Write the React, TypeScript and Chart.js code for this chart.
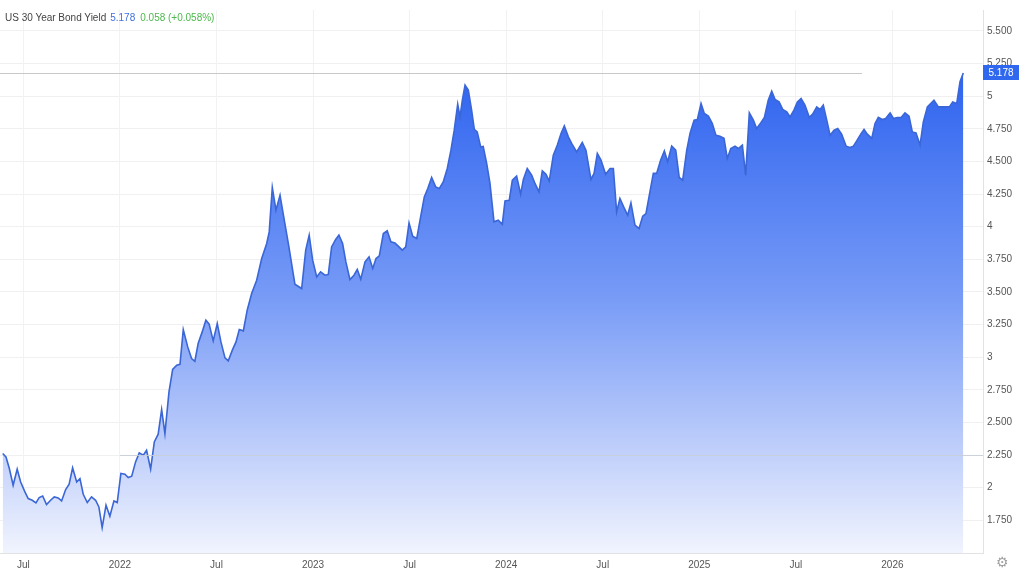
import React, { useEffect, useRef } from 'react';
import { Chart, registerables } from 'chart.js';

Chart.register(...registerables);

// Dates as decimal years (e.g. 2022.5 = start of July 2022)
const dates: number[] = [
  2021.393, 2021.410, 2021.427, 2021.447, 2021.468, 2021.486, 2021.508, 2021.525, 2021.546, 2021.565,
  2021.582, 2021.600, 2021.620, 2021.641, 2021.660, 2021.680, 2021.698, 2021.719, 2021.737, 2021.755,
  2021.776, 2021.793, 2021.810, 2021.831, 2021.853, 2021.874, 2021.891, 2021.908, 2021.928, 2021.948,
  2021.969, 2021.986, 2022.005, 2022.026, 2022.043, 2022.061, 2022.081, 2022.100, 2022.121, 2022.138,
  2022.159, 2022.178, 2022.198, 2022.216, 2022.233, 2022.254, 2022.273, 2022.294, 2022.311, 2022.328,
  2022.351, 2022.371, 2022.388, 2022.405, 2022.426, 2022.445, 2022.462, 2022.483, 2022.504, 2022.523,
  2022.544, 2022.561, 2022.582, 2022.601, 2022.618, 2022.639, 2022.659, 2022.682, 2022.708, 2022.734,
  2022.760, 2022.773, 2022.789, 2022.808, 2022.829, 2022.851, 2022.875, 2022.906, 2022.941, 2022.962,
  2022.980, 2022.998, 2023.019, 2023.039, 2023.062, 2023.079, 2023.096, 2023.117, 2023.134, 2023.153,
  2023.170, 2023.191, 2023.212, 2023.229, 2023.247, 2023.269, 2023.290, 2023.309, 2023.326, 2023.343,
  2023.364, 2023.384, 2023.403, 2023.424, 2023.445, 2023.462, 2023.480, 2023.497, 2023.516, 2023.537,
  2023.557, 2023.576, 2023.594, 2023.614, 2023.635, 2023.654, 2023.674, 2023.695, 2023.714, 2023.731,
  2023.749, 2023.761, 2023.773, 2023.787, 2023.804, 2023.821, 2023.835, 2023.850, 2023.868, 2023.881,
  2023.899, 2023.916, 2023.937, 2023.959, 2023.980, 2023.994, 2024.016, 2024.032, 2024.054, 2024.075,
  2024.089, 2024.109, 2024.132, 2024.149, 2024.170, 2024.187, 2024.206, 2024.223, 2024.244, 2024.265,
  2024.284, 2024.301, 2024.322, 2024.339, 2024.365, 2024.394, 2024.413, 2024.439, 2024.455, 2024.472,
  2024.491, 2024.515, 2024.538, 2024.555, 2024.572, 2024.589, 2024.610, 2024.629, 2024.646, 2024.667,
  2024.688, 2024.707, 2024.724, 2024.745, 2024.762, 2024.779, 2024.800, 2024.819, 2024.836, 2024.857,
  2024.878, 2024.896, 2024.914, 2024.935, 2024.952, 2024.973, 2024.990, 2025.009, 2025.026, 2025.047,
  2025.067, 2025.086, 2025.107, 2025.128, 2025.145, 2025.163, 2025.185, 2025.202, 2025.223, 2025.240,
  2025.259, 2025.280, 2025.297, 2025.318, 2025.337, 2025.357, 2025.375, 2025.392, 2025.413, 2025.432,
  2025.453, 2025.470, 2025.490, 2025.508, 2025.527, 2025.547, 2025.570, 2025.587, 2025.608, 2025.625,
  2025.642, 2025.660, 2025.677, 2025.698, 2025.717, 2025.737, 2025.760, 2025.780, 2025.798, 2025.815,
  2025.836, 2025.853, 2025.870, 2025.893, 2025.910, 2025.927, 2025.948, 2025.965, 2025.988, 2026.005,
  2026.025, 2026.045, 2026.065, 2026.086, 2026.103, 2026.122, 2026.143, 2026.160, 2026.181, 2026.198,
  2026.215, 2026.238, 2026.264, 2026.295, 2026.312, 2026.333, 2026.350, 2026.367,
];

const yields: number[] = [
  2.262, 2.236, 2.149, 2.019, 2.142, 2.044, 1.968, 1.917, 1.904, 1.884,
  1.925, 1.937, 1.871, 1.904, 1.930, 1.922, 1.899, 1.986, 2.027, 2.152,
  2.044, 2.070, 1.950, 1.887, 1.930, 1.904, 1.853, 1.695, 1.866, 1.782,
  1.899, 1.887, 2.109, 2.103, 2.078, 2.088, 2.198, 2.267, 2.249, 2.287,
  2.142, 2.351, 2.410, 2.599, 2.415, 2.734, 2.906, 2.939, 2.946, 3.212,
  3.079, 2.990, 2.969, 3.105, 3.194, 3.284, 3.253, 3.125, 3.258, 3.117,
  2.995, 2.972, 3.054, 3.117, 3.212, 3.202, 3.360, 3.488, 3.590, 3.756,
  3.871, 3.960, 4.300, 4.126, 4.241, 4.050, 3.845, 3.559, 3.526, 3.820,
  3.935, 3.743, 3.615, 3.654, 3.628, 3.634, 3.845, 3.902, 3.935, 3.871,
  3.730, 3.595, 3.628, 3.672, 3.598, 3.730, 3.769, 3.680, 3.756, 3.776,
  3.948, 3.968, 3.884, 3.876, 3.845, 3.820, 3.845, 4.029, 3.927, 3.910,
  4.075, 4.228, 4.293, 4.377, 4.305, 4.293, 4.343, 4.446, 4.586, 4.739,
  4.939, 4.841, 4.969, 5.084, 5.046, 4.893, 4.745, 4.726, 4.611, 4.615,
  4.484, 4.333, 4.037, 4.050, 4.019, 4.198, 4.203, 4.356, 4.387, 4.249,
  4.362, 4.446, 4.395, 4.331, 4.267, 4.428, 4.402, 4.349, 4.548, 4.625,
  4.714, 4.772, 4.688, 4.638, 4.573, 4.645, 4.586, 4.362, 4.408, 4.561,
  4.510, 4.402, 4.446, 4.446, 4.113, 4.216, 4.147, 4.088, 4.182, 4.012,
  3.986, 4.080, 4.101, 4.272, 4.408, 4.408, 4.510, 4.581, 4.497, 4.617,
  4.586, 4.377, 4.356, 4.586, 4.714, 4.816, 4.821, 4.944, 4.867, 4.847,
  4.791, 4.701, 4.693, 4.678, 4.523, 4.599, 4.617, 4.599, 4.625, 4.395,
  4.872, 4.816, 4.752, 4.795, 4.837, 4.969, 5.038, 4.975, 4.956, 4.898,
  4.880, 4.841, 4.893, 4.956, 4.982, 4.931, 4.837, 4.862, 4.918, 4.898,
  4.931, 4.816, 4.701, 4.739, 4.752, 4.709, 4.617, 4.607, 4.617, 4.657,
  4.709, 4.745, 4.709, 4.676, 4.791, 4.837, 4.821, 4.829, 4.872, 4.829,
  4.837, 4.837, 4.872, 4.847, 4.726, 4.719, 4.625, 4.803, 4.918, 4.944,
  4.969, 4.918, 4.918, 4.918, 4.956, 4.944, 5.110, 5.178,
];

const xTicks: number[] = [2021.5, 2022, 2022.5, 2023, 2023.5, 2024, 2024.5, 2025, 2025.5, 2026];
const yTicks: number[] = [1.75, 2, 2.25, 2.5, 2.75, 3, 3.25, 3.5, 3.75, 4, 4.25, 4.5, 4.75, 5, 5.25, 5.5];
const xRange: number[] = [2021.379, 2026.469];
const yRange: number[] = [1.5, 5.66];

const titleText = 'US 30 Year Bond Yield';
const lastValue = 5.178;
const changeText = '0.058 (+0.058%)';
const priceLineEnd = 2025.842;
const refLineValue = 2.25;
const refLineStart = 2022.0;

const FONT = "'Liberation Sans', Arial, sans-serif";

export default function App() {
  const canvasRef = useRef<HTMLCanvasElement>(null);

  useEffect(() => {
    const canvas = canvasRef.current;
    if (!canvas) return;
    const n = Math.min(dates.length, yields.length);
    const points: { x: number; y: number }[] = [];
    for (let i = 0; i < n; i++) points.push({ x: dates[i], y: yields[i] });

    const overlay = {
      id: 'overlay',
      beforeDatasetsDraw(chart: any) {
        const { ctx, chartArea, scales } = chart;
        const y = Math.round(scales.y.getPixelForValue(lastValue)) + 0.5;
        const xEnd = scales.x.getPixelForValue(priceLineEnd);
        ctx.save();
        ctx.strokeStyle = '#c8c8c8';
        ctx.lineWidth = 1;
        ctx.beginPath();
        ctx.moveTo(chartArea.left, y);
        ctx.lineTo(xEnd, y);
        ctx.stroke();
        ctx.restore();
      },
      afterDatasetsDraw(chart: any) {
        const { ctx, chartArea, scales } = chart;
        const y = Math.round(scales.y.getPixelForValue(refLineValue)) + 0.5;
        const xStart = scales.x.getPixelForValue(refLineStart);
        ctx.save();
        ctx.strokeStyle = 'rgba(200,205,215,0.9)';
        ctx.lineWidth = 1;
        ctx.beginPath();
        ctx.moveTo(xStart, y);
        ctx.lineTo(chartArea.right, y);
        ctx.stroke();
        ctx.restore();
      },
      afterDraw(chart: any) {
        const { ctx, chartArea, scales } = chart;
        const y = scales.y.getPixelForValue(lastValue);
        const x0 = chartArea.right;
        const w = 36;
        const h = 15;
        ctx.save();
        ctx.fillStyle = '#2f68ee';
        ctx.fillRect(x0, Math.round(y - h / 2), w, h);
        ctx.fillStyle = '#ffffff';
        ctx.font = `10px ${FONT}`;
        ctx.textAlign = 'center';
        ctx.textBaseline = 'middle';
        ctx.fillText(lastValue.toFixed(3), x0 + w / 2, y + 0.5);
        ctx.restore();
      },
    };

    const chart = new Chart(canvas, {
      type: 'line',
      data: {
        datasets: [
          {
            data: points,
            borderColor: '#3a66d6',
            borderWidth: 1.6,
            pointRadius: 0,
            tension: 0,
            fill: 'start',
            backgroundColor: (c: any) => {
              const ch = c.chart;
              const ca = ch.chartArea;
              if (!ca) return 'rgba(60,110,240,0.5)';
              const top = ch.scales.y.getPixelForValue(5.1);
              const g = ch.ctx.createLinearGradient(0, top, 0, ca.bottom);
              g.addColorStop(0, 'rgb(50,102,240)');
              g.addColorStop(0.45, 'rgb(118,154,246)');
              g.addColorStop(0.8, 'rgb(196,210,251)');
              g.addColorStop(1, 'rgb(241,244,254)');
              return g;
            },
          },
        ],
      },
      options: {
        animation: false,
        responsive: false,
        maintainAspectRatio: false,
        events: [],
        layout: { padding: 0 },
        plugins: { legend: { display: false }, tooltip: { enabled: false } },
        scales: {
          x: {
            type: 'linear',
            min: xRange[0],
            max: xRange[1],
            afterBuildTicks: (s: any) => {
              s.ticks = xTicks.map((v) => ({ value: v }));
            },
            afterFit: (s: any) => {
              s.height = 30;
            },
            ticks: {
              autoSkip: false,
              maxRotation: 0,
              padding: 6,
              color: '#555',
              font: { family: FONT, size: 10 },
              callback: (v: any) => (Number.isInteger(v) ? String(v) : 'Jul'),
            },
            grid: { color: '#f2f2f2', drawTicks: false },
            border: { color: '#e2e2e2' },
          },
          y: {
            type: 'linear',
            position: 'right',
            min: yRange[0],
            max: yRange[1],
            afterBuildTicks: (s: any) => {
              s.ticks = yTicks.map((v) => ({ value: v }));
            },
            afterFit: (s: any) => {
              s.width = 41;
            },
            ticks: {
              padding: 4,
              color: '#555',
              font: { family: FONT, size: 10 },
              callback: (v: any) => (Number.isInteger(v) ? String(v) : Number(v).toFixed(3)),
            },
            grid: { color: '#f0f0f0', drawTicks: false },
            border: { color: '#e2e2e2' },
          },
        },
      },
      plugins: [overlay],
    } as any);

    return () => chart.destroy();
  }, []);

  return (
    <div style={{ position: 'absolute', left: 0, top: 0, width: 1024, height: 583, background: '#fff', overflow: 'hidden' }}>
      <canvas ref={canvasRef} width={1024} height={583} style={{ display: 'block', width: 1024, height: 583 }} />
      <div
        style={{
          position: 'absolute',
          left: 5,
          top: 12,
          font: `10px ${FONT}`,
          lineHeight: '12px',
          whiteSpace: 'nowrap',
          color: '#444',
        }}
      >
        <span>{titleText}</span>
        <span style={{ color: '#3f6fdc', marginLeft: 4 }}>{lastValue.toFixed(3)}</span>
        <span style={{ color: '#4cb84c', marginLeft: 5 }}>{changeText}</span>
      </div>
      <div
        style={{
          position: 'absolute',
          left: 996,
          top: 554,
          font: `14px 'DejaVu Sans', sans-serif`,
          lineHeight: '16px',
          color: '#a0a0a0',
        }}
      >
        ⚙
      </div>
    </div>
  );
}
